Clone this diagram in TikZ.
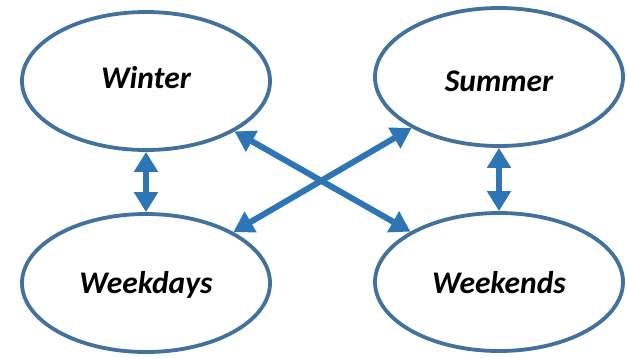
\documentclass[tikz,border=0pt]{standalone}
\usepackage{fontspec}
\setmainfont{Carlito}
\usetikzlibrary{arrows.meta,shapes.geometric}
\definecolor{ellline}{HTML}{41719C}
\definecolor{arrblue}{HTML}{2E75B6}
\tikzset{
  season/.style={ellipse, draw=ellline, line width=3.8pt, fill=white,
    minimum width=248pt, minimum height=138pt, inner sep=0pt},
  label/.style={font=\fontsize{31.5}{36}\selectfont\bfseries\itshape},
  link/.style={draw=arrblue, line width=6pt,
    {Triangle[length=20pt,width=23pt]}-{Triangle[length=20pt,width=23pt]}}
}
\begin{document}
\begin{tikzpicture}[x=1pt,y=-1pt]
\useasboundingbox (0,0) rectangle (627,357);
\node[season] (w) at (146,81) {};
\node[season] (s) at (499,77) {};
\node[season] (wd) at (146,283) {};
\node[season] (we) at (499,282) {};
\node[label] (tw) at ([yshift=3pt]w.center) {Winter};
\node[label] (ts) at ([yshift=-4pt]s.center) {Summer};
\node[label] (twd) at ([yshift=-2pt]wd.center) {Weekdays};
\node[label] (twe) at ([yshift=-1pt]we.center) {Weekends};
\draw[link] (w.south) -- (wd.north);
\draw[link] (s.south) -- (we.north);
\draw[link] (w) -- (we);
\draw[link] (s) -- (wd);
\end{tikzpicture}
\end{document}
